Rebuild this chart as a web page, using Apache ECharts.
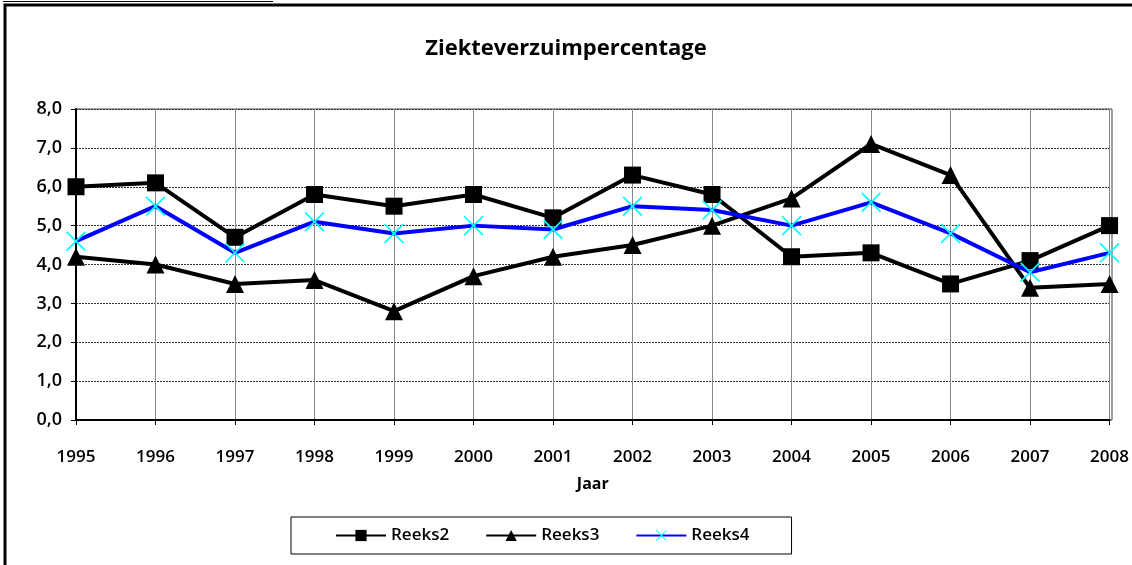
<!DOCTYPE html>
<html>
<head>
<meta charset="utf-8">
<script src="https://cdn.jsdelivr.net/npm/echarts@6/dist/echarts.min.js"></script>
<style>
  html, body { margin: 0; padding: 0; background: #fff; }
  #chart { width: 1132px; height: 565px; }
</style>
</head>
<body>
<div id="chart"></div>
<script>
const years = ['1995', '1996', '1997', '1998', '1999', '2000', '2001', '2002', '2003', '2004', '2005', '2006', '2007', '2008']
const reeks2 = [6.0, 6.1, 4.7, 5.8, 5.5, 5.8, 5.2, 6.3, 5.8, 4.2, 4.3, 3.5, 4.1, 5.0]
const reeks3 = [4.2, 4.0, 3.5, 3.6, 2.8, 3.7, 4.2, 4.5, 5.0, 5.7, 7.1, 6.3, 3.4, 3.5]
const reeks4 = [4.6, 5.5, 4.3, 5.1, 4.8, 5.0, 4.9, 5.5, 5.4, 5.0, 5.6, 4.8, 3.8, 4.3]

const font = 'Open Sans'
// thin X shape for Reeks4 markers
const crossPath = 'path://M0,0.6L0.6,0L5,4.4L9.4,0L10,0.6L5.6,5L10,9.4L9.4,10L5,5.6L0.6,10L0,9.4L4.4,5Z'

const chart = echarts.init(document.getElementById('chart'))
chart.setOption({
  animation: false,
  backgroundColor: '#fff',
  title: {
    text: 'Ziekteverzuimpercentage',
    left: 'center',
    top: 33,
    textStyle: { fontFamily: font, fontSize: 22, fontWeight: 'bold', color: '#000' }
  },
  graphic: [
    { type: 'rect', shape: { x: 5, y: 5, width: 1140, height: 600 }, style: { fill: 'none', stroke: '#000', lineWidth: 3 } },
    { type: 'line', shape: { x1: 3, y1: 1.5, x2: 273, y2: 1.5 }, style: { stroke: '#000', lineWidth: 1 } },
    // plot area frame (top and right)
    { type: 'rect', shape: { x: 76, y: 109, width: 1036, height: 311 }, style: { fill: 'none', stroke: '#444', lineWidth: 1 }, z: 0 }
  ],
  legend: {
    left: 291,
    top: 517,
    width: 502,
    padding: [10, 42, 10, 44],
    itemGap: 36,
    itemWidth: 50,
    itemHeight: 14,
    borderColor: '#000',
    borderWidth: 1,
    textStyle: { fontFamily: font, fontSize: 17, fontWeight: 600, color: '#000' },
    data: ['Reeks2', 'Reeks3', 'Reeks4']
  },
  grid: { left: 76, right: 20, top: 109, bottom: 145, containLabel: false },
  xAxis: {
    type: 'category',
    boundaryGap: false,
    data: years,
    name: 'Jaar',
    nameLocation: 'middle',
    nameGap: 56,
    nameTextStyle: { fontFamily: font, fontSize: 16, fontWeight: 'bold', color: '#000' },
    axisLine: { lineStyle: { color: '#000', width: 2 } },
    axisTick: { show: true, length: 5, alignWithLabel: true, lineStyle: { color: '#000' } },
    axisLabel: { margin: 29, fontFamily: font, fontSize: 17, fontWeight: 600, color: '#000', interval: 0 },
    splitLine: { show: true, lineStyle: { color: '#888', width: 1, type: 'solid' } }
  },
  yAxis: {
    type: 'value',
    min: 0,
    max: 8,
    interval: 1,
    axisLine: { show: true, lineStyle: { color: '#000', width: 2 } },
    axisTick: { show: true, length: 5, lineStyle: { color: '#000' } },
    axisLabel: {
      margin: 14,
      fontFamily: font,
      fontSize: 18,
      fontWeight: 600,
      color: '#000',
      formatter: v => v.toFixed(1).replace('.', ',')
    },
    splitLine: { show: true, lineStyle: { color: '#333', width: 1, type: [2, 1] } }
  },
  series: [
    {
      name: 'Reeks2',
      type: 'line',
      data: reeks2,
      symbol: 'rect',
      symbolSize: 17,
      lineStyle: { color: '#000', width: 4 },
      itemStyle: { color: '#000' },
      z: 3
    },
    {
      name: 'Reeks3',
      type: 'line',
      data: reeks3,
      symbol: 'triangle',
      symbolSize: 18,
      lineStyle: { color: '#000', width: 4 },
      itemStyle: { color: '#000' },
      z: 3
    },
    {
      name: 'Reeks4',
      type: 'line',
      data: reeks4,
      symbol: crossPath,
      symbolSize: 20,
      lineStyle: { color: '#0000ff', width: 4 },
      itemStyle: { color: '#00ffff', borderWidth: 0 },
      z: 4
    }
  ]
})
</script>
</body>
</html>
